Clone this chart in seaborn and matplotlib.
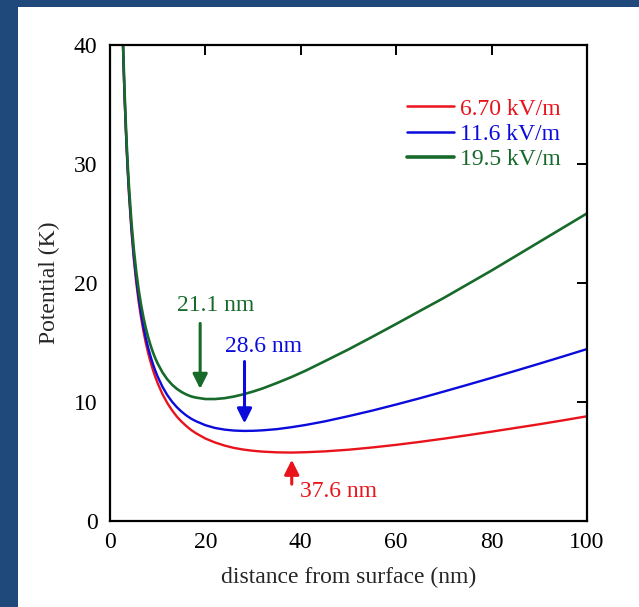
import numpy as np
import pandas as pd
import matplotlib
matplotlib.use("Agg")
import matplotlib.pyplot as plt
import seaborn as sns
from matplotlib.patches import Rectangle
from matplotlib.lines import Line2D

# ---- data ----
distance_nm = [2.6, 2.8, 3, 3.25, 3.5, 3.75, 4, 4.5, 5, 5.5, 6, 6.5, 7, 7.5, 8, 8.5, 9, 9.5,
               10, 11, 12, 13, 14, 15, 16, 17, 18, 20, 22, 24, 26, 28, 30, 32, 35, 38,
               41, 45, 50, 55, 60, 65, 70, 75, 80, 85, 90, 95, 100]
pot_670 = [41.74, 38.78, 36.23, 33.48, 31.13, 29.09, 27.31, 24.34, 21.98, 20.06, 18.46,
           17.12, 15.97, 14.98, 14.11, 13.36, 12.69, 12.10, 11.57, 10.66, 9.92, 9.31, 8.78,
           8.35, 7.98, 7.65, 7.38, 6.93, 6.60, 6.34, 6.14, 6.00, 5.90, 5.83, 5.77, 5.75,
           5.78, 5.85, 5.99, 6.18, 6.40, 6.65, 6.92, 7.21, 7.51, 7.82, 8.13, 8.46, 8.80]
pot_116 = [41.89, 38.94, 36.40, 33.66, 31.32, 29.30, 27.53, 24.60, 22.26, 20.37, 18.80,
           17.48, 16.36, 15.39, 14.56, 13.84, 13.19, 12.63, 12.13, 11.28, 10.59, 10.03, 9.57,
           9.19, 8.87, 8.60, 8.39, 8.05, 7.82, 7.68, 7.60, 7.57, 7.58, 7.62, 7.72, 7.88,
           8.07, 8.37, 8.81, 9.28, 9.79, 10.32, 10.88, 11.45, 12.03, 12.62, 13.22, 13.83, 14.45]
pot_195 = [42.17, 39.25, 36.73, 34.02, 31.71, 29.71, 27.97, 25.09, 22.81, 20.97, 19.46,
           18.20, 17.13, 16.22, 15.44, 14.77, 14.18, 13.67, 13.23, 12.49, 11.91, 11.46, 11.11,
           10.84, 10.63, 10.47, 10.37, 10.25, 10.25, 10.32, 10.46, 10.65, 10.88, 11.14, 11.60,
           12.09, 12.63, 13.42, 14.42, 15.48, 16.56, 17.66, 18.75, 19.90, 21.05, 22.25,
           23.45, 24.65, 25.85]
series_labels = ["6.70 kV/m", "11.6 kV/m", "19.5 kV/m"]
series_colors = ["#e8131b", "#0b0bdb", "#176a2a"]

min_labels = ["21.1 nm", "28.6 nm", "37.6 nm"]

x_ticks = [0, 20, 40, 60, 80, 100]
y_ticks = [0, 10, 20, 30, 40]

# ---- long-form table ----
df = pd.concat([
    pd.DataFrame({"distance": distance_nm, "potential": vals, "field": lab})
    for vals, lab in zip([pot_670, pot_116, pot_195], series_labels)
], ignore_index=True)

sns.set_theme(style="white")
plt.rcParams["font.family"] = ["Liberation Serif", "DejaVu Serif"]

fig = plt.figure(figsize=(6.39, 6.07), dpi=100)
fig.patch.set_facecolor("white")
# dark blue frame (left and top bands)
fig.patches.append(Rectangle((0, 0), 18 / 639, 1, transform=fig.transFigure,
                             facecolor="#1f497b", edgecolor="none", zorder=0))
fig.patches.append(Rectangle((0, 1 - 7 / 607), 1, 7 / 607, transform=fig.transFigure,
                             facecolor="#1f497b", edgecolor="none", zorder=0))

ax = fig.add_axes([110 / 639, (607 - 521) / 607, 477 / 639, 476 / 607])
ax.set_facecolor("white")

palette = dict(zip(series_labels, series_colors))
sns.lineplot(data=df, x="distance", y="potential", hue="field", hue_order=series_labels,
             palette=palette, linewidth=1.7, ax=ax, sort=False, estimator=None,
             legend=False)
for ln in ax.get_lines():
    if matplotlib.colors.to_hex(ln.get_color()) == series_colors[2]:
        ln.set_linewidth(1.9)

ax.set_xlim(0, 100)
ax.set_ylim(0, 40)
ax.set_xticks(x_ticks)
ax.set_yticks(y_ticks)
ax.tick_params(direction="in", length=7, width=1.4, top=True, right=True,
               labelsize=17, pad=9, colors="black")
ax.tick_params(axis="x", pad=8)
for s in ax.spines.values():
    s.set_visible(True)
    s.set_linewidth(1.6)
    s.set_color("black")

ax.set_xlabel("distance from surface (nm)", fontsize=17, labelpad=10)
ax.set_ylabel("Potential (K)", fontsize=17, labelpad=10)

# legend
handles = [Line2D([], [], color=c, lw=(2.6 if i == 2 else 1.8))
           for i, c in enumerate(series_colors)]
leg = ax.legend(handles, series_labels, loc="upper left",
                bbox_to_anchor=((407 - 110) / 477, (521 - 98) / 476),
                frameon=False, fontsize=17, handlelength=2.0, handletextpad=0.25,
                labelspacing=0.16, borderpad=0, borderaxespad=0)
for txt, c in zip(leg.get_texts(), series_colors):
    txt.set_color(c)

# minimum annotations
arrow_kw = dict(arrowstyle="-|>", lw=2.2, mutation_scale=22, shrinkA=0, shrinkB=0)
ax.annotate("", xy=(18.9, 11.1), xytext=(18.9, 16.6),
            arrowprops=dict(color=series_colors[2], **arrow_kw))
ax.text(22.2, 18.15, min_labels[0], color=series_colors[2], fontsize=17,
        ha="center", va="center")
ax.annotate("", xy=(28.2, 8.2), xytext=(28.2, 13.4),
            arrowprops=dict(color=series_colors[1], **arrow_kw))
ax.text(32.2, 14.66, min_labels[1], color=series_colors[1], fontsize=17,
        ha="center", va="center")
ax.annotate("", xy=(38.1, 5.15), xytext=(38.1, 3.1),
            arrowprops=dict(color=series_colors[0], **arrow_kw))
ax.text(47.8, 2.48, min_labels[2], color=series_colors[0], fontsize=17,
        ha="center", va="center")

fig.savefig("out.png", dpi=100, facecolor=fig.get_facecolor())
